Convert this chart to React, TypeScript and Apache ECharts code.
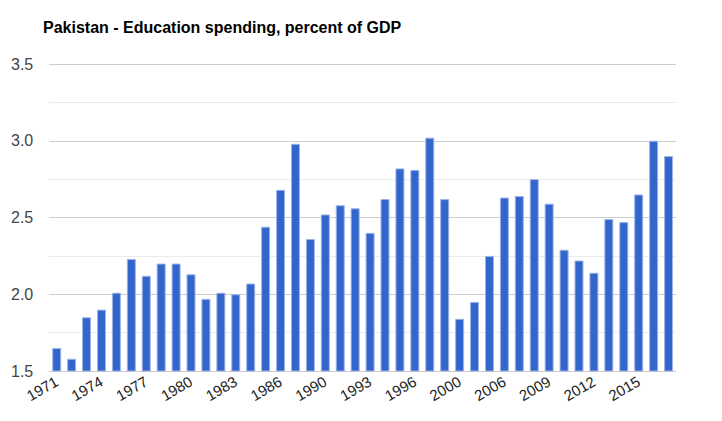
import React, { useEffect, useRef } from "react";
import * as echarts from "echarts";

const titleText = "Pakistan - Education spending, percent of GDP";

const years: string[] = [
  "1971", "1972", "1973", "1974", "1975", "1976", "1977", "1978", "1979", "1980",
  "1981", "1982", "1983", "1984", "1985", "1986", "1987", "1988", "1990", "1991",
  "1992", "1993", "1994", "1995", "1996", "1997", "1998", "2000", "2004", "2005",
  "2006", "2007", "2008", "2009", "2010", "2011", "2012", "2013", "2014", "2015",
  "2016", "2017",
];

const spending: number[] = [
  1.65, 1.58, 1.85, 1.90, 2.01, 2.23, 2.12, 2.20, 2.20, 2.13,
  1.97, 2.01, 2.00, 2.07, 2.44, 2.68, 2.98, 2.36, 2.52, 2.58,
  2.56, 2.40, 2.62, 2.82, 2.81, 3.02, 2.62, 1.84, 1.95, 2.25,
  2.63, 2.64, 2.75, 2.59, 2.29, 2.22, 2.14, 2.49, 2.47, 2.65,
  3.00, 2.90,
];

const yMin = 1.5;
const yMax = 3.5;
const yStep = 0.5;

export default function App() {
  const ref = useRef<HTMLDivElement>(null);

  useEffect(() => {
    if (!ref.current) return;
    const chart = echarts.init(ref.current, undefined, { renderer: "svg" });
    chart.setOption({
      animation: false,
      backgroundColor: "#ffffff",
      title: {
        text: titleText,
        left: 35,
        top: 11,
        padding: 0,
        textStyle: {
          fontFamily: "Arial, 'Liberation Sans', sans-serif",
          fontSize: 16,
          fontWeight: "bold",
          color: "#000000",
        },
      },
      grid: {
        left: 35,
        right: 46,
        top: 56,
        bottom: 50,
        containLabel: false,
      },
      xAxis: {
        type: "category",
        data: years,
        axisLine: { show: false },
        axisTick: { show: false },
        axisLabel: {
          interval: 2,
          rotate: 30,
          margin: 9,
          fontFamily: "Arial, 'Liberation Sans', sans-serif",
          fontSize: 15,
          color: "#222222",
        },
      },
      yAxis: {
        type: "value",
        min: yMin,
        max: yMax,
        interval: yStep,
        axisLine: { show: false },
        axisTick: { show: false },
        axisLabel: {
          margin: 16,
          fontFamily: "Arial, 'Liberation Sans', sans-serif",
          fontSize: 16,
          color: "#444444",
          formatter: (v: number) => v.toFixed(1),
        },
        splitLine: { show: true, lineStyle: { color: "#cccccc", width: 1 } },
        minorTick: { show: false, splitNumber: 2 },
        minorSplitLine: { show: true, lineStyle: { color: "#ebebeb", width: 1 } },
      },
      series: [
        {
          type: "bar",
          data: spending,
          barWidth: 9,
          itemStyle: {
            color: "#3366cc",
            borderColor: "#9db4e8",
            borderWidth: 1,
          },
        },
      ],
    });
    return () => chart.dispose();
  }, []);

  return <div ref={ref} style={{ width: 714, height: 413 }} />;
}
